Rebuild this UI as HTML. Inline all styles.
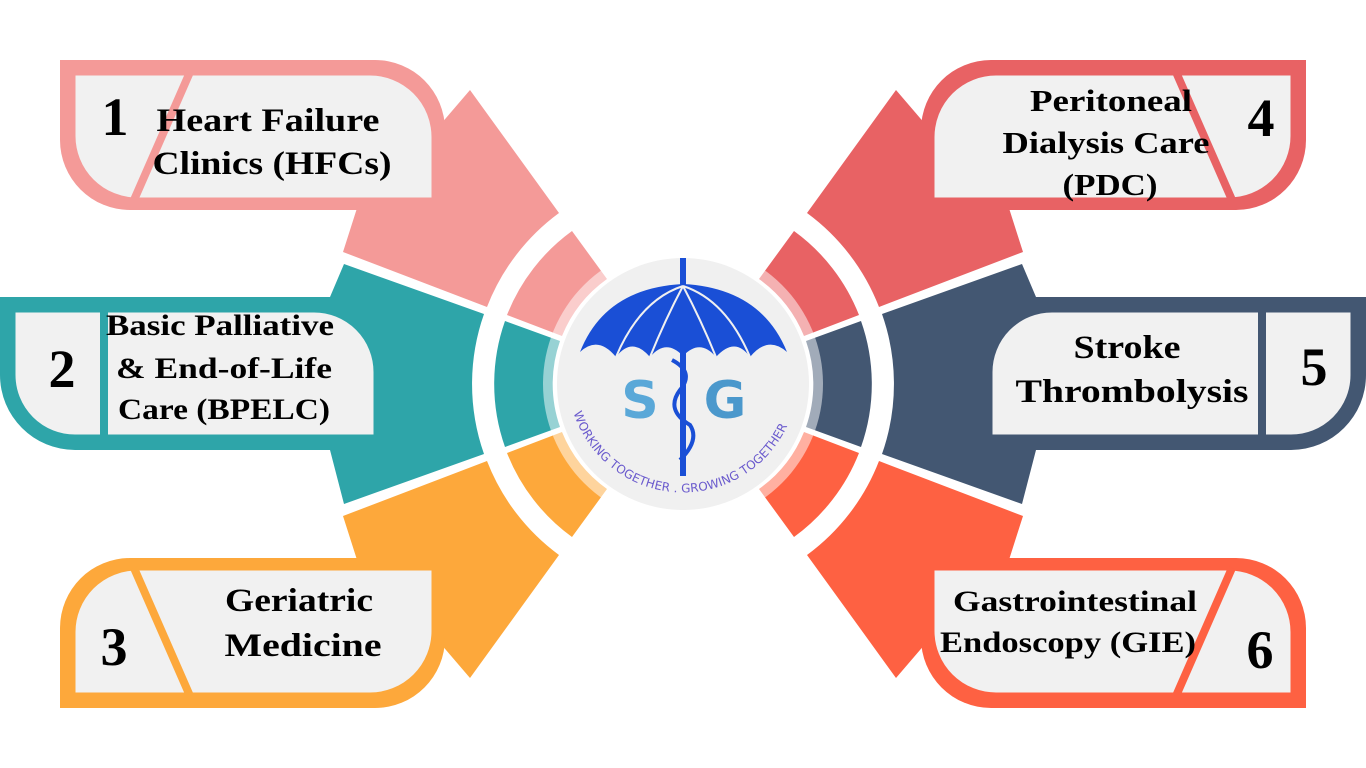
<!DOCTYPE html>
<html><head><meta charset="utf-8"><style>
html,body{margin:0;padding:0;background:#fff;width:1366px;height:768px;overflow:hidden}
svg{display:block}
.t{font-family:"Liberation Serif",serif;font-weight:bold;fill:#000;text-anchor:middle}
.c{stroke:none}
</style></head><body>
<svg width="1366" height="768" viewBox="0 0 1366 768" xmlns="http://www.w3.org/2000/svg">
<defs>
<g id="tl">
 <path class="c" d="M440,125 L470,90 L559,213 A211,211 0 0 0 487,307 L343,252 L358,205 Z"/>
 <path class="c" d="M60,60 H375 A70,70 0 0 1 445,130 V210 H130 A70,70 0 0 1 60,140 Z"/>
 <path d="M75,75 H370 A62,62 0 0 1 432,137 V198 H137 A62,62 0 0 1 75,136 Z" fill="#f1f1f1"/>
 <line class="s" x1="190" y1="72" x2="134" y2="200" stroke-width="8"/>
 <path class="c" d="M572,231 A189,189 0 0 0 507,315 L562,336 A130,130 0 0 1 607,279 Z"/>
</g>
<g id="ml">
 <path class="c" d="M0,297 H330 L344,264 L484,314 A211,211 0 0 0 484,454 L344,504 L330,450 H75 A75,75 0 0 1 0,375 Z"/>
 <path d="M15,312 H314 A60,60 0 0 1 374,372 V435 H75 A60,60 0 0 1 15,375 Z" fill="#f1f1f1"/>
 <line class="s" x1="104" y1="310" x2="104" y2="437" stroke-width="8"/>
 <path class="c" d="M505,321 A189,189 0 0 0 505,447 L560,427 A130,130 0 0 1 560,341 Z"/>
</g>
</defs>
<g style="fill:#f49a98;stroke:#f49a98"><use href="#tl"/></g>
<g style="fill:#fda83b;stroke:#fda83b" transform="translate(0,768) scale(1,-1)"><use href="#tl"/></g>
<g style="fill:#e86264;stroke:#e86264" transform="translate(1366,0) scale(-1,1)"><use href="#tl"/></g>
<g style="fill:#fe6142;stroke:#fe6142" transform="translate(1366,768) scale(-1,-1)"><use href="#tl"/></g>
<g style="fill:#2ea5a9;stroke:#2ea5a9"><use href="#ml"/></g>
<g style="fill:#435772;stroke:#435772" transform="translate(1366,0) scale(-1,1)"><use href="#ml"/></g>

<!-- logo -->
<circle cx="683" cy="384" r="140" fill="#fff" fill-opacity="0.5"/>
<circle cx="683" cy="384" r="126" fill="#f0f0f0"/>
<line x1="683" y1="258" x2="683" y2="476" stroke="#1a4fd6" stroke-width="6"/>
<path d="M580,352 Q605,288 683,284 Q761,288 787,352 Q768,335 750,357 Q735,336 716,357 Q700,338 683,356 Q666,338 650,357 Q632,336 616,357 Q598,335 580,352 Z" fill="#1a4fd6"/>
<g stroke="#f0f0f0" stroke-width="2" fill="none">
<path d="M683,286 Q640,300 616,357"/><path d="M683,286 Q726,300 750,357"/>
<path d="M683,286 Q665,320 650,357"/><path d="M683,286 Q701,320 716,357"/>
</g>
<path d="M672,360 Q695,372 680,390 Q665,410 690,425 Q700,440 680,460" stroke="#1a4fd6" stroke-width="4" fill="none"/>
<text x="640" y="418" font-family="'DejaVu Sans',sans-serif" font-weight="bold" font-size="52" fill="#5aa8d8" text-anchor="middle">S</text>
<text x="725" y="418" font-family="'DejaVu Sans',sans-serif" font-weight="bold" font-size="52" fill="#4b98cc" text-anchor="middle">G</text>
<path id="arc" d="M573,411 A115,115 0 0 0 793,411" fill="none"/>
<text font-family="'DejaVu Sans',sans-serif" font-size="12" fill="#6a5acd"><textPath href="#arc" startOffset="2" textLength="275">WORKING TOGETHER . GROWING TOGETHER</textPath></text>

<!-- texts -->
<text class="t" x="115" y="135" font-size="54">1</text>
<text class="t" x="268" y="131" font-size="33" textLength="223" lengthAdjust="spacingAndGlyphs">Heart Failure</text>
<text class="t" x="272" y="174" font-size="33" textLength="239" lengthAdjust="spacingAndGlyphs">Clinics (HFCs)</text>
<text class="t" x="62" y="387" font-size="54">2</text>
<text class="t" x="220" y="335" font-size="30" textLength="228" lengthAdjust="spacingAndGlyphs">Basic Palliative</text>
<text class="t" x="224" y="378" font-size="30" textLength="216" lengthAdjust="spacingAndGlyphs">&amp; End-of-Life</text>
<text class="t" x="224" y="419" font-size="30" textLength="212" lengthAdjust="spacingAndGlyphs">Care (BPELC)</text>
<text class="t" x="114" y="665" font-size="54">3</text>
<text class="t" x="299" y="611" font-size="33" textLength="148" lengthAdjust="spacingAndGlyphs">Geriatric</text>
<text class="t" x="303" y="656" font-size="33" textLength="157" lengthAdjust="spacingAndGlyphs">Medicine</text>
<text class="t" x="1111" y="111" font-size="31" textLength="162" lengthAdjust="spacingAndGlyphs">Peritoneal</text>
<text class="t" x="1106" y="153" font-size="31" textLength="207" lengthAdjust="spacingAndGlyphs">Dialysis Care</text>
<text class="t" x="1110" y="195" font-size="31" textLength="95" lengthAdjust="spacingAndGlyphs">(PDC)</text>
<text class="t" x="1261" y="136" font-size="54">4</text>
<text class="t" x="1127" y="358" font-size="33" textLength="107" lengthAdjust="spacingAndGlyphs">Stroke</text>
<text class="t" x="1132" y="402" font-size="33" textLength="233" lengthAdjust="spacingAndGlyphs">Thrombolysis</text>
<text class="t" x="1314" y="385" font-size="54">5</text>
<text class="t" x="1075" y="611" font-size="30" textLength="244" lengthAdjust="spacingAndGlyphs">Gastrointestinal</text>
<text class="t" x="1068" y="652" font-size="30" textLength="256" lengthAdjust="spacingAndGlyphs">Endoscopy (GIE)</text>
<text class="t" x="1260" y="668" font-size="54">6</text>
</svg>
</body></html>
